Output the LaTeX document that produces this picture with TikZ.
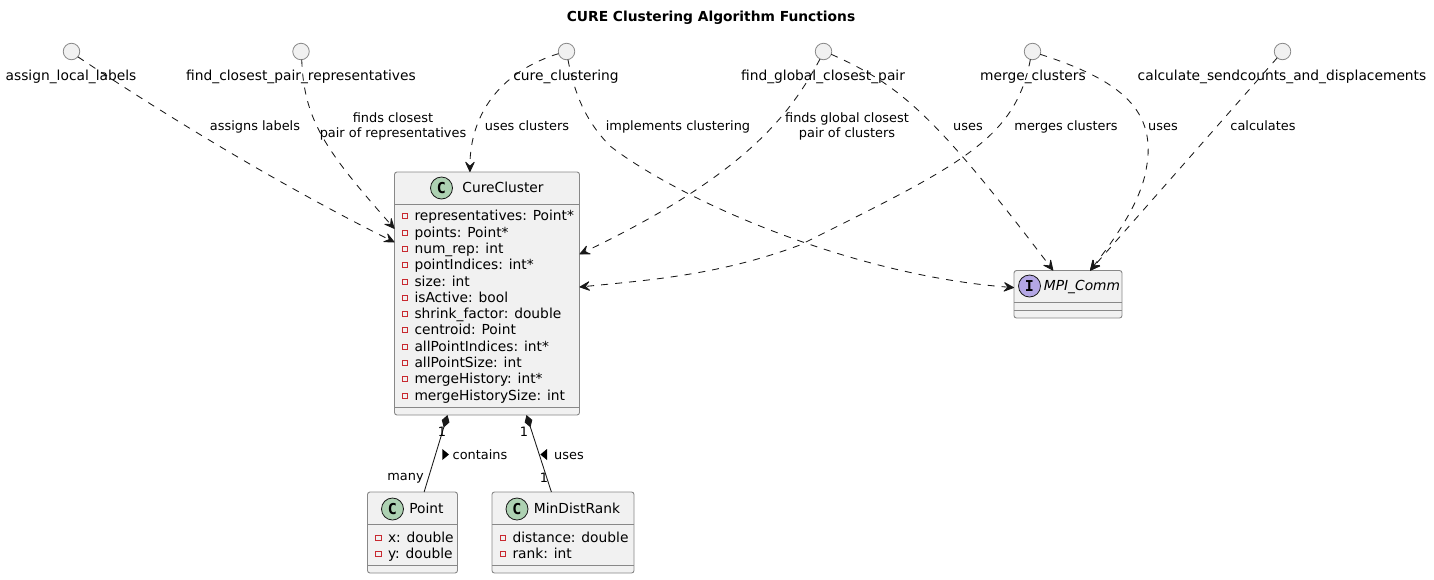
\documentclass[tikz,border=0pt]{standalone}
\usepackage{fontspec}
\setmainfont{DejaVu Sans}
\setmonofont{DejaVu Sans Mono}
\usetikzlibrary{arrows.meta,calc}
\definecolor{boxfill}{HTML}{F1F1F1}
\definecolor{boxline}{HTML}{888888}
\definecolor{edgecol}{HTML}{181818}
\definecolor{classcirc}{HTML}{ADD1B2}
\definecolor{intcirc}{HTML}{B4A7E5}
\definecolor{privred}{HTML}{C82930}
\tikzset{
  x=1pt,y=-1pt,
  every node/.style={font=\fontsize{13.8}{16}\selectfont,text=black,inner sep=0pt,outer sep=0pt},
  oneline/.style={text height=11.4pt,text depth=2pt},
  actorcirc/.style={circle,draw=boxline,fill=boxfill,line width=0.8pt,minimum size=16.5pt},
  classbox/.style={rectangle,draw=boxline,fill=boxfill,line width=0.9pt,rounded corners=2.5pt},
  sepline/.style={draw=boxline,line width=0.9pt},
  lbl/.style={align=center,font=\fontsize{12.9}{15}\selectfont},
  attr/.style={anchor=west,oneline},
  tipopen/.style={-{Stealth[length=12pt,width=11pt,inset=5pt,round]}},
  dep/.style={draw=edgecol,line width=0.85pt,dash pattern=on 7pt off 7pt,tipopen},
  comp/.style={draw=edgecol,line width=0.85pt,{Diamond[length=13pt,width=8pt]}-},
  spot/.style={circle,draw=edgecol,line width=0.8pt,minimum size=22pt,font=\fontsize{15}{15}\selectfont\ttfamily\bfseries},
  priv/.style={rectangle,draw=privred,fill=none,line width=0.8pt,minimum size=5.5pt},
  tri/.style={fill=black,draw=none}
}
\newcommand{\attrrow}[4]{%
  \node[priv] (#1m) at (#3,#4) {};
  \node[attr] (#1t) at (#3+9.5,#4) {#2};
}
\begin{document}
\begin{tikzpicture}
\useasboundingbox (0,0) rectangle (1434,579);
\fill[white] (0,0) rectangle (1434,579);

\node[font=\fontsize{13.8}{16}\selectfont\bfseries] (title) at (711,18) {CURE Clustering Algorithm Functions};

% class boxes
\node[classbox,minimum width=185pt,minimum height=243pt] (cc) at (487,293.5) {};
\node[classbox,minimum width=90pt,minimum height=81pt] (pt) at (412.5,532.5) {};
\node[classbox,minimum width=142pt,minimum height=81pt] (md) at (563,532.5) {};
\node[classbox,minimum width=108pt,minimum height=47.5pt] (mpi) at (1068,294.25) {};

% separators
\draw[sepline] (cc.west |- 0,204) -- (cc.east |- 0,204);
\draw[sepline] (cc.west |- 0,407) -- (cc.east |- 0,407);
\draw[sepline] (pt.west |- 0,524.5) -- (pt.east |- 0,524.5);
\draw[sepline] (pt.west |- 0,565) -- (pt.east |- 0,565);
\draw[sepline] (md.west |- 0,524.5) -- (md.east |- 0,524.5);
\draw[sepline] (md.west |- 0,565) -- (md.east |- 0,565);
\draw[sepline] (mpi.west |- 0,302) -- (mpi.east |- 0,302);
\draw[sepline] (mpi.west |- 0,310) -- (mpi.east |- 0,310);

% headers
\node[spot,fill=classcirc] (ccs) at (441.5,188) {C};
\node[oneline] (ccn) at (503,188) {CureCluster};
\node[spot,fill=classcirc] (pts) at (392.5,509) {C};
\node[oneline] (ptn) at (426.5,509) {Point};
\node[spot,fill=classcirc] (mds) at (517,509) {C};
\node[oneline] (mdn) at (577,509) {MinDistRank};
\node[spot,fill=intcirc] (mpis) at (1029.5,286) {I};
\node[oneline,font=\fontsize{13.8}{16}\selectfont\itshape] (mpin) at (1082,286) {MPI\_Comm};

% attributes
\attrrow{r1}{representatives: Point*}{405}{216}
\attrrow{r2}{points: Point*}{405}{233}
\attrrow{r3}{num\_rep: int}{405}{249}
\attrrow{r4}{pointIndices: int*}{405}{265}
\attrrow{r5}{size: int}{405}{282}
\attrrow{r6}{isActive: bool}{405}{298}
\attrrow{r7}{shrink\_factor: double}{405}{314}
\attrrow{r8}{centroid: Point}{405}{330}
\attrrow{r9}{allPointIndices: int*}{405}{347}
\attrrow{r10}{allPointSize: int}{405}{363}
\attrrow{r11}{mergeHistory: int*}{405}{379}
\attrrow{r12}{mergeHistorySize: int}{405}{396}
\attrrow{p1}{x: double}{378.5}{538}
\attrrow{p2}{y: double}{378.5}{554}
\attrrow{m1}{distance: double}{503}{538}
\attrrow{m2}{rank: int}{503}{554}

% actors
\node[actorcirc] (a1) at (71.5,51.5) {};
\node[actorcirc] (a2) at (301,51.5) {};
\node[actorcirc] (a3) at (566.5,51.5) {};
\node[actorcirc] (a4) at (823.5,51.5) {};
\node[actorcirc] (a5) at (1032.5,51.5) {};
\node[actorcirc] (a6) at (1282.5,51.5) {};

% connectors
\draw[dep] (a1.-40) .. controls (180,125) and (290,190) .. (cc.151.4);
\draw[dep] (a2.-85) .. controls (304,120) and (325,150) .. (cc.145.5);
\draw[dep] (a3.195) .. controls (505,70) and (470,110) .. (cc.98.9);
\draw[dep] (a3.-80) .. controls (575,95) and (585,120) .. (610,146) .. controls (680,200) and (850,275) .. (mpi.173.4);
\draw[dep] (a4.-115) .. controls (790,115) and (745,175) .. (cc.23.1);
\draw[dep] (a4.-20) .. controls (900,85) and (935,115) .. (mpi.122.3);
\draw[dep] (a5.-105) .. controls (1015,140) and (960,165) .. (800,245) .. controls (720,275) and (650,280) .. (cc.4);
\draw[dep] (a5.-20) .. controls (1120,80) and (1158,110) .. (1146,170) .. controls (1140,205) and (1110,245) .. (mpi.47.2);
\draw[dep] (a6.-130) -- (mpi.47.2);
\draw[comp] (cc.-108.2) -- (pt.74.1);
\draw[comp] (cc.-72.6) -- (md.106.5);

% actor labels
\node[oneline] (a1l) at (71,76) {assign\_local\_labels};
\node[oneline] (a2l) at (301,76) {find\_closest\_pair\_representatives};
\node[oneline] (a3l) at (566,76) {cure\_clustering};
\node[oneline] (a4l) at (823,76) {find\_global\_closest\_pair};
\node[oneline] (a5l) at (1033,76) {merge\_clusters};
\node[oneline] (a6l) at (1282,76) {calculate\_sendcounts\_and\_displacements};

% edge labels
\node[lbl,oneline] (e1) at (255,126) {assigns labels};
\node[lbl] (e2) at (393,126.5) {finds closest\\pair of representatives};
\node[lbl,oneline] (e3) at (527,126) {uses clusters};
\node[lbl,oneline] (e4) at (678,126) {implements clustering};
\node[lbl] (e5) at (847,126.5) {finds global closest\\pair of clusters};
\node[lbl,oneline] (e6) at (968,126) {uses};
\node[lbl,oneline] (e7) at (1066,126) {merges clusters};
\node[lbl,oneline] (e8) at (1163,126) {uses};
\node[lbl,oneline] (e9) at (1263,126) {calculates};
\node[lbl,oneline] (e10) at (480,454.6) {contains};
\node[lbl,oneline] (e11) at (569,454.6) {uses};
\node[lbl] (c1) at (442,431.5) {1};
\node[lbl] (c2) at (405.5,478) {many};
\node[lbl] (c3) at (524,431.5) {1};
\node[lbl] (c4) at (544,477.5) {1};
\fill[tri] (442.3,449) -- (449,454.5) -- (442.3,460) -- cycle;
\fill[tri] (547,449) -- (540.3,454.5) -- (547,460) -- cycle;
\end{tikzpicture}
\end{document}
